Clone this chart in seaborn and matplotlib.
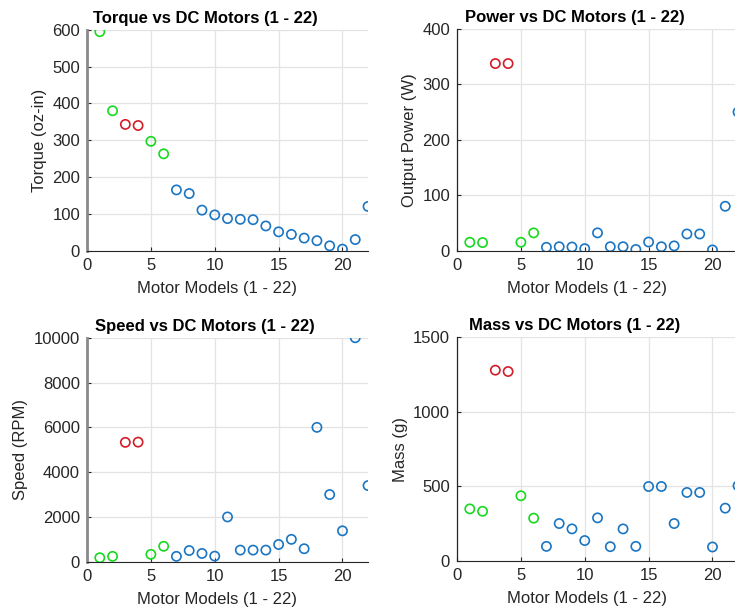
import numpy as np
import pandas as pd
import matplotlib
matplotlib.use('Agg')
import matplotlib.pyplot as plt
import seaborn as sns

# %%

motor = list(range(1, 23))
group = ['g', 'g', 'r', 'r', 'g', 'g'] + ['b'] * 16

torque = [595, 380, 343, 340, 297, 263, 165, 155, 110, 97, 87,
          85, 84, 67, 51, 44, 34, 27, 13, 4, 30, 120]
power = [15, 14.5, 337.5, 337.5, 15, 32, 6, 7, 6.5, 3.5, 32,
         7, 7, 2, 15.5, 7, 8.5, 30, 30, 1.2, 80, 250]
speed = [180, 240, 5330, 5340, 330, 690, 240, 500, 370, 250, 2000,
         520, 520, 520, 770, 1000, 580, 6000, 3000, 1380, 10000, 3400]
mass = [349, 333, 1278, 1269, 437, 287, 98, 251, 215, 137, 289,
        96, 215, 98, 499, 499, 251, 459, 459, 94, 354, 504]

df = pd.DataFrame({'motor': motor, 'group': group, 'torque': torque,
                   'power': power, 'speed': speed, 'mass': mass})

palette = {'g': '#17d91f', 'r': '#d41c28', 'b': '#1a75c2'}

# %%

plt.rcParams['font.family'] = ['Liberation Sans', 'DejaVu Sans']

fig = plt.figure(figsize=(7.35, 6.09), dpi=100)

panels = [
    ('torque', 'Torque vs DC Motors (1 - 22)', 'Torque (oz-in)', 600, 100,
     [0.1184, 0.5885, 0.3823, 0.3625], '#8a8a8a'),
    ('power', 'Power vs DC Motors (1 - 22)', 'Output Power (W)', 400, 100,
     [0.6218, 0.5885, 0.3823, 0.3640], '#262626'),
    ('speed', 'Speed vs DC Motors (1 - 22)', 'Speed (RPM)', 10000, 2000,
     [0.1184, 0.0776, 0.3823, 0.3678], '#8a8a8a'),
    ('mass', 'Mass vs DC Motors (1 - 22)', 'Mass (g)', 1500, 500,
     [0.6218, 0.0788, 0.3823, 0.3678], '#262626'),
]

for col, title, ylabel, ymax, ystep, pos, lcol in panels:
    ax = fig.add_axes(pos)
    sns.scatterplot(data=df, x='motor', y=col, hue='group', palette=palette,
                    s=44, linewidth=1.2, legend=False, ax=ax, zorder=3)
    pc = ax.collections[0]
    fc = pc.get_facecolors()
    pc.set_facecolors('none')
    pc.set_edgecolors(fc)

    ax.set_xlim(0, 22)
    ax.set_ylim(0, ymax)
    ax.set_xticks([0, 5, 10, 15, 20])
    ax.set_yticks(np.arange(0, ymax + 1, ystep))
    ax.grid(True, color='#e3e3e3', linewidth=0.9, zorder=0)
    ax.set_axisbelow(True)
    for s in ['top', 'right']:
        ax.spines[s].set_visible(False)
    ax.spines['bottom'].set_color('#262626')
    ax.spines['left'].set_color(lcol)
    ax.spines['left'].set_linewidth(2 if lcol != '#262626' else 0.9)
    ax.tick_params(direction='in', length=3, labelsize=12,
                   colors='#262626', pad=5)
    ax.set_title(title, fontsize=12, fontweight='bold', pad=5, x=0.42)
    ax.set_xlabel('Motor Models (1 - 22)', fontsize=12, color='#262626',
                  labelpad=6, x=0.462)
    ax.set_ylabel(ylabel, fontsize=12, color='#262626', labelpad=4)

plt.savefig('out.png', dpi=100)
